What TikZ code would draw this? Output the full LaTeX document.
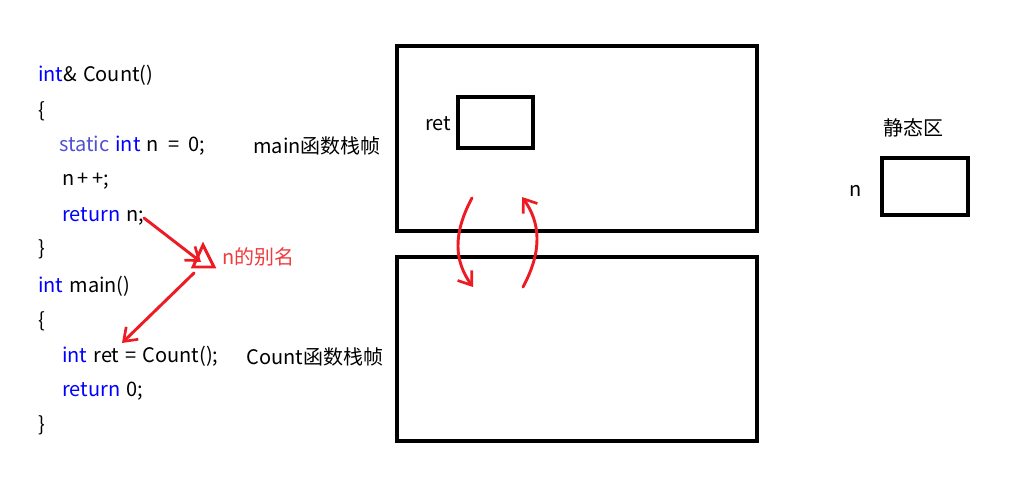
\documentclass[tikz,border=0pt]{standalone}
\usepackage{fontspec}
\setmainfont{Noto Sans CJK SC}
\usetikzlibrary{arrows.meta}
\definecolor{kw}{RGB}{0,0,255}
\definecolor{kw2}{RGB}{80,80,210}
\definecolor{pen}{RGB}{237,28,36}
\definecolor{lbl}{RGB}{240,60,60}
\newcommand{\gapsp}{\hspace{0.3em}}
\tikzset{
  code/.style={anchor=west,inner sep=0pt,font=\fontsize{15}{17}\selectfont},
  frame/.style={draw=black,line width=2.3pt},
  redpen/.style={draw=pen,line width=2.2pt,line cap=round,-{Straight Barb[length=9pt,width=13pt,line width=2pt]}},
}
\begin{document}
\begin{tikzpicture}[x=0.75pt,y=-0.75pt]
\useasboundingbox (0,0) rectangle (1019,482);
% code
\node[code] (l1) at (38,75) {\textcolor{kw}{int}\&\gapsp Count()};
\node[code] (l2) at (38,111) {\{};
\node[code] (l3) at (59,146) {\textcolor{kw2}{static}\gapsp\textcolor{kw}{int}\gapsp n\gapsp\,=\,\gapsp 0;};
\node[code] (l4) at (62,181) {n\,+\,+;};
\node[code] (l5) at (62,216) {\textcolor{kw}{return}\gapsp n;};
\node[code] (l6) at (38,249) {\}};
\node[code] (l7) at (38,286) {\textcolor{kw}{int}\gapsp main()};
\node[code] (l8) at (38,321) {\{};
\node[code] (l9) at (62,356) {\textcolor{kw}{int}\gapsp ret\gapsp =\gapsp Count();};
\node[code] (l10) at (62,391) {\textcolor{kw}{return}\gapsp 0;};
\node[code] (l11) at (38,425) {\}};
% labels
\node[code] (mainlbl) at (253,146) {main函数栈帧};
\node[code] (countlbl) at (246,357) {Count函数栈帧};
% frames
\draw[frame] (397,46) rectangle (757,231);
\node[inner sep=0pt] (mainframe) at (577,138) {};
\draw[frame] (397,257) rectangle (757,441);
\node[inner sep=0pt] (countframe) at (577,349) {};
\draw[frame] (458,97) rectangle (533,148);
\node[code] (retlbl) at (425,124) {ret};
\draw[frame] (882,158) rectangle (968,215);
\node[code] (nlbl) at (849,191) {n};
\node[code] (static) at (883,128) {静态区};
% red annotations
\coordinate (t1) at (193,267);
\coordinate (t2) at (214,267);
\coordinate (t3) at (203,245);
\draw[draw=pen,line width=2.2pt,line join=miter] (t1) -- (t2) -- (t3) -- cycle;
\node[code,text=lbl] (alias) at (222,257) {n的别名};
\coordinate (a1) at (144,218);
\coordinate (a1e) at (201,262);
\draw[redpen] (a1) -- (a1e);
\coordinate (b1) at (194,273);
\coordinate (b1e) at (122,343);
\draw[redpen] (b1) -- (b1e);
\coordinate (c1) at (472,198);
\coordinate (c1e) at (473,287);
\draw[redpen] (c1) .. controls (452,235) and (455,262) .. (c1e);
\coordinate (d1) at (523,287);
\coordinate (d1e) at (522,197);
\draw[redpen] (d1) .. controls (543,250) and (540,222) .. (d1e);
\end{tikzpicture}
\end{document}
